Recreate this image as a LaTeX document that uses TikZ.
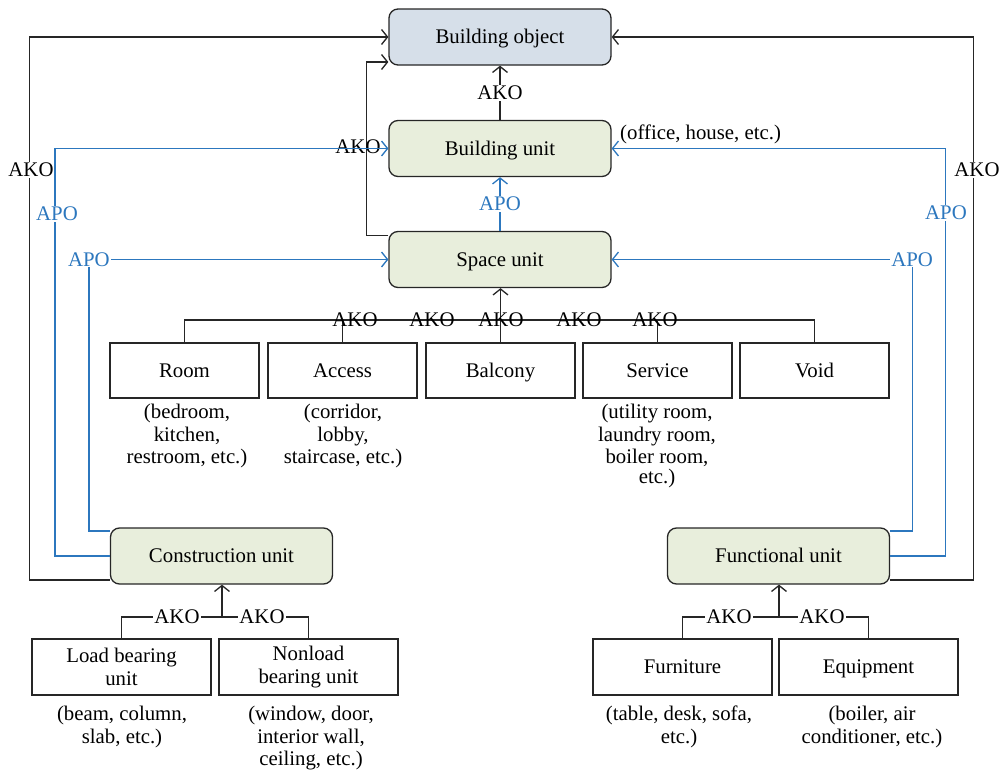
\documentclass[tikz,border=0pt]{standalone}
\usepackage{fontspec}
\setmainfont{Liberation Serif}
\usetikzlibrary{arrows.meta}
\definecolor{bofill}{HTML}{D6DFE9}
\definecolor{gfill}{HTML}{E8EEDC}
\definecolor{apoblue}{HTML}{2C77BE}
\begin{document}
\begin{tikzpicture}[x=1pt,y=-1pt,
  every node/.style={font=\fontsize{20.8}{23.5}\selectfont},
  one/.style={text height=16.5pt,text depth=3pt},
  rbox/.style={draw=black!85,line width=1.3pt,rounded corners=9pt,minimum width=222pt,minimum height=56pt,inner sep=0pt,one},
  sbox/.style={draw=black!85,line width=1.3pt,minimum width=149pt,minimum height=55pt,inner sep=0pt,align=center},
  wbox/.style={sbox,minimum width=179pt,minimum height=56pt},
  note/.style={align=center,inner sep=0pt,font=\fontsize{20.8}{22.5}\selectfont},
  lab/.style={inner sep=1pt},
  wlab/.style={inner sep=1pt,fill=white},
  conn/.style={draw=black!85,line width=1.3pt},
  bconn/.style={draw=apoblue,line width=1.3pt},
  arr/.style={-{Straight Barb[length=6pt,width=15pt,line width=1.3pt]}}
]
\useasboundingbox (0,0) rectangle (1002,771);
% main nodes
\node[rbox,fill=bofill] (bo) at (500,37) {Building object};
\node[rbox,fill=gfill] (bu) at (500,148.5) {Building unit};
\node[rbox,fill=gfill] (su) at (500,259.5) {Space unit};
\node[rbox,fill=gfill] (cu) at (221.5,556) {Construction unit};
\node[rbox,fill=gfill] (fu) at (778.5,556) {Functional unit};
% space row
\node[sbox,one] (r1) at (184.5,370.5) {Room};
\node[sbox,one] (r2) at (342.5,370.5) {Access};
\node[sbox,one] (r3) at (500.5,370.5) {Balcony};
\node[sbox,one] (r4) at (657.5,370.5) {Service};
\node[sbox,one] (r5) at (814.5,370.5) {Void};
% bottom rows
\node[wbox] (l1) at (121.5,667) {Load bearing\\unit};
\node[wbox] (l2) at (308.5,667) {Nonload\\bearing unit};
\node[wbox,one] (f1) at (682.5,667) {Furniture};
\node[wbox,one] (f2) at (868.5,667) {Equipment};
% notes
\node[note,anchor=west] (n0) at (620,134) {(office, house, etc.)};
\node[note,anchor=north] (n1) at (187,404) {(bedroom,\\kitchen,\\restroom, etc.)};
\node[note,anchor=north] (n2) at (343,404) {(corridor,\\lobby,\\staircase, etc.)};
\node[note,anchor=north] (n4) at (657,404) {(utility room,\\laundry room,\\boiler room,\\[-3pt]etc.)};
\node[note,anchor=north] (n5) at (122,706) {(beam, column,\\slab, etc.)};
\node[note,anchor=north] (n6) at (311,706) {(window, door,\\interior wall,\\ceiling, etc.)};
\node[note,anchor=north] (n7) at (679,706) {(table, desk, sofa,\\etc.)};
\node[note,anchor=north] (n8) at (872,706) {(boiler, air\\conditioner, etc.)};
% central vertical connectors
\draw[conn,arr] (bu) -- node[wlab] {AKO} (bo);
\draw[bconn,arr] (su) -- node[wlab,text=apoblue] {APO} (bu);
% space unit AKO to building object (left)
\draw[conn,arr] ([yshift=24pt]su.west) -- ++(-22,0) |- ([yshift=-25pt]bo.west);
\node[lab] (k1) at (358,147) {AKO};
% space subtypes
\coordinate (hub) at (500.5,320);
\draw[conn] (r1.north) |- (hub) -| (r5.north);
\draw[conn] (r2.north) -- (r2.north |- hub);
\draw[conn] (r4.north) -- (r4.north |- hub);
\draw[conn] (r3.north) -- (hub);
\draw[conn,arr] (hub) -- (hub |- su.south);
\node[lab] (a1) at (355,320) {AKO};
\node[lab] (a2) at (432,320) {AKO};
\node[lab] (a3) at (501,320) {AKO};
\node[lab] (a4) at (579,320) {AKO};
\node[lab] (a5) at (655,320) {AKO};
% construction unit links
\draw[conn,arr] ([yshift=-24pt]cu.west) -- ++(-80.5,0) |- (bo.west);
\node[wlab] (k2) at (31,170) {AKO};
\draw[bconn,arr] (cu.west) -- ++(-55,0) |- (bu.west);
\node[wlab,text=apoblue] (p1) at (57,214) {APO};
\draw[bconn,arr] ([yshift=25pt]cu.west) -- ++(-21,0) |- node[pos=0.5,wlab,text=apoblue] {APO} (su.west);
% functional unit links
\draw[conn,arr] ([yshift=-24pt]fu.east) -- ++(83,0) |- (bo.east);
\node[wlab] (k3) at (977,170) {AKO};
\draw[bconn,arr] (fu.east) -- ++(55,0) |- (bu.east);
\node[wlab,text=apoblue] (p2) at (946,213) {APO};
\draw[bconn,arr] ([yshift=25pt]fu.east) -- ++(22,0) |- node[pos=0.5,wlab,text=apoblue] {APO} (su.east);
% construction subtypes
\coordinate (h2) at (222,617);
\draw[conn] (l1.north) |- (h2) -| (l2.north);
\draw[conn,arr] (h2) -- (h2 |- cu.south);
\node[wlab] (b1) at (177,617) {AKO};
\node[wlab] (b2) at (262,617) {AKO};
% functional subtypes
\coordinate (h3) at (779,617);
\draw[conn] (f1.north) |- (h3) -| (f2.north);
\draw[conn,arr] (h3) -- (h3 |- fu.south);
\node[wlab] (c1) at (729,617) {AKO};
\node[wlab] (c2) at (822,617) {AKO};
\end{tikzpicture}
\end{document}
